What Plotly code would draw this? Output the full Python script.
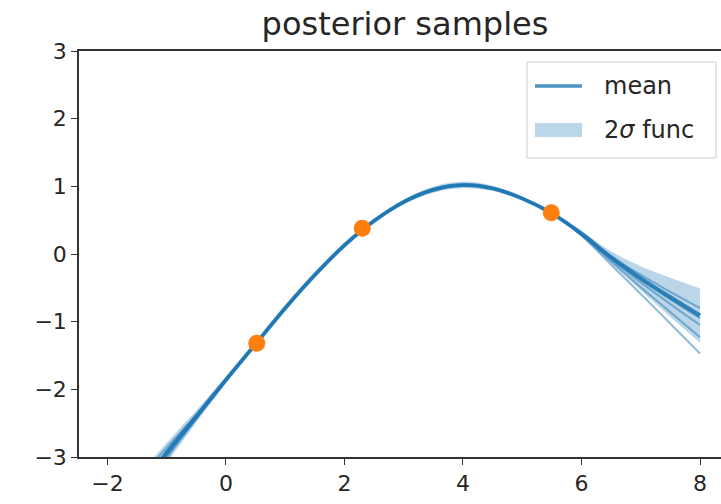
import plotly.graph_objects as go

# grid of x positions
x = [-2.0, -1.5, -1.0, -0.5, 0.0, 0.5, 1.0, 1.5, 2.0, 2.5, 3.0, 3.5, 4.0,
     4.5, 5.0, 5.5, 6.0, 6.5, 7.0, 7.5, 8.0]

# posterior mean
mean = [-4.05, -3.5, -2.94, -2.40, -1.86, -1.33, -0.80, -0.31, 0.13, 0.49,
        0.77, 0.95, 1.02, 0.97, 0.82, 0.60, 0.30, -0.05, -0.36, -0.64, -0.91]

# 2 sigma half-width
two_sigma = [0.32, 0.22, 0.15, 0.09, 0.045, 0.02, 0.03, 0.035, 0.02, 0.02,
             0.035, 0.045, 0.05, 0.04, 0.025, 0.02, 0.04, 0.09, 0.18, 0.29, 0.40]

# posterior samples
sample_1 = [-3.78, -3.34, -2.86, -2.37, -1.85, -1.33, -0.80, -0.31, 0.13, 0.49,
            0.77, 0.95, 1.02, 0.97, 0.82, 0.60, 0.31, -0.03, -0.31, -0.56, -0.80]
sample_2 = [-4.15, -3.57, -2.98, -2.42, -1.87, -1.33, -0.80, -0.31, 0.13, 0.49,
            0.77, 0.95, 1.02, 0.97, 0.82, 0.60, 0.30, -0.06, -0.38, -0.67, -0.95]
sample_3 = [-3.95, -3.44, -2.91, -2.39, -1.86, -1.33, -0.80, -0.31, 0.13, 0.49,
            0.77, 0.95, 1.02, 0.97, 0.82, 0.60, 0.29, -0.08, -0.42, -0.74, -1.05]
sample_4 = [-4.30, -3.66, -3.02, -2.44, -1.88, -1.33, -0.80, -0.31, 0.13, 0.49,
            0.77, 0.95, 1.02, 0.97, 0.82, 0.60, 0.28, -0.11, -0.49, -0.86, -1.23]
sample_5 = [-4.00, -3.48, -2.93, -2.41, -1.86, -1.33, -0.80, -0.31, 0.13, 0.49,
            0.77, 0.95, 1.02, 0.97, 0.82, 0.60, 0.27, -0.16, -0.59, -1.03, -1.47]
samples = [sample_1, sample_2, sample_3, sample_4, sample_5]

# observations
obs_x = [0.52, 2.30, 5.49]
obs_y = [-1.32, 0.38, 0.61]

x_ticks = [-2, 0, 2, 4, 6, 8]
y_ticks = [-3, -2, -1, 0, 1, 2, 3]

legend_labels = ["mean", "2<i>σ</i> func"]

C0 = "31,119,180"
FONT = "DejaVu Sans"
TXT = "#262626"

W, H = 721, 504
L, R, T, B = 79, 0, 51, 47


def px_x(p):
    return (p - L) / (W - L - R)


def px_y(p):
    return (H - B - p) / (H - T - B)


upper = [m + s for m, s in zip(mean, two_sigma)]
lower = [m - s for m, s in zip(mean, two_sigma)]

fig = go.Figure()

fig.add_trace(go.Scatter(x=x, y=lower, mode="lines", line=dict(width=0, shape="spline"),
                         showlegend=False, hoverinfo="skip"))
fig.add_trace(go.Scatter(x=x, y=upper, mode="lines", line=dict(width=0, shape="spline"),
                         fill="tonexty", fillcolor=f"rgba({C0},0.3)",
                         showlegend=False, hoverinfo="skip"))

for s in samples:
    fig.add_trace(go.Scatter(x=x, y=s, mode="lines",
                             line=dict(color=f"rgba({C0},0.5)", width=2, shape="spline"),
                             showlegend=False, hoverinfo="skip"))

fig.add_trace(go.Scatter(x=x, y=mean, mode="lines",
                         line=dict(color=f"rgba({C0},0.9)", width=4, shape="spline"),
                         showlegend=False))

fig.add_trace(go.Scatter(x=obs_x, y=obs_y, mode="markers",
                         marker=dict(color="#ff7f0e", size=17, symbol="circle",
                                     line=dict(width=0)),
                         showlegend=False, cliponaxis=False))

# hand-built legend (matplotlib style)
shapes = [
    dict(type="rect", xref="paper", yref="paper", layer="above",
         x0=px_x(527), x1=px_x(716), y0=px_y(158), y1=px_y(62),
         line=dict(color="#cccccc", width=1), fillcolor="rgba(255,255,255,0.8)"),
    dict(type="line", xref="paper", yref="paper", layer="above",
         x0=px_x(535), x1=px_x(582), y0=px_y(86), y1=px_y(86),
         line=dict(color=f"rgba({C0},0.8)", width=3.5)),
    dict(type="rect", xref="paper", yref="paper", layer="above",
         x0=px_x(535), x1=px_x(582), y0=px_y(137), y1=px_y(123),
         line=dict(width=0), fillcolor=f"rgba({C0},0.3)"),
]
annotations = [
    dict(xref="paper", yref="paper", x=px_x(602), y=px_y(86), text=legend_labels[0],
         showarrow=False, xanchor="left", yanchor="middle",
         font=dict(size=24, color=TXT, family=FONT)),
    dict(xref="paper", yref="paper", x=px_x(602), y=px_y(130), text=legend_labels[1],
         showarrow=False, xanchor="left", yanchor="middle",
         font=dict(size=24, color=TXT, family=FONT)),
]

fig.update_layout(
    width=W, height=H,
    margin=dict(l=L, r=R, t=T, b=B),
    paper_bgcolor="white", plot_bgcolor="white",
    font=dict(family=FONT, size=22, color=TXT),
    title=dict(text="posterior samples", x=405 / W, xanchor="center",
               y=1 - 24 / H, yanchor="middle", font=dict(size=32, color=TXT)),
    showlegend=False,
    shapes=shapes,
    annotations=annotations,
)

fig.update_xaxes(range=[-2.48, 8.354], tickvals=x_ticks, showgrid=False, zeroline=False,
                 showline=True, linecolor="#333333", linewidth=1.5, mirror=True,
                 ticks="outside", ticklen=6, tickcolor="#333333", tickwidth=1.2)
fig.update_yaxes(range=[-3, 3], tickvals=y_ticks, showgrid=False, zeroline=False,
                 showline=True, linecolor="#333333", linewidth=1.5, mirror=False,
                 ticks="outside", ticklen=6, tickcolor="#333333", tickwidth=1.2)

fig.write_html("out.html")
